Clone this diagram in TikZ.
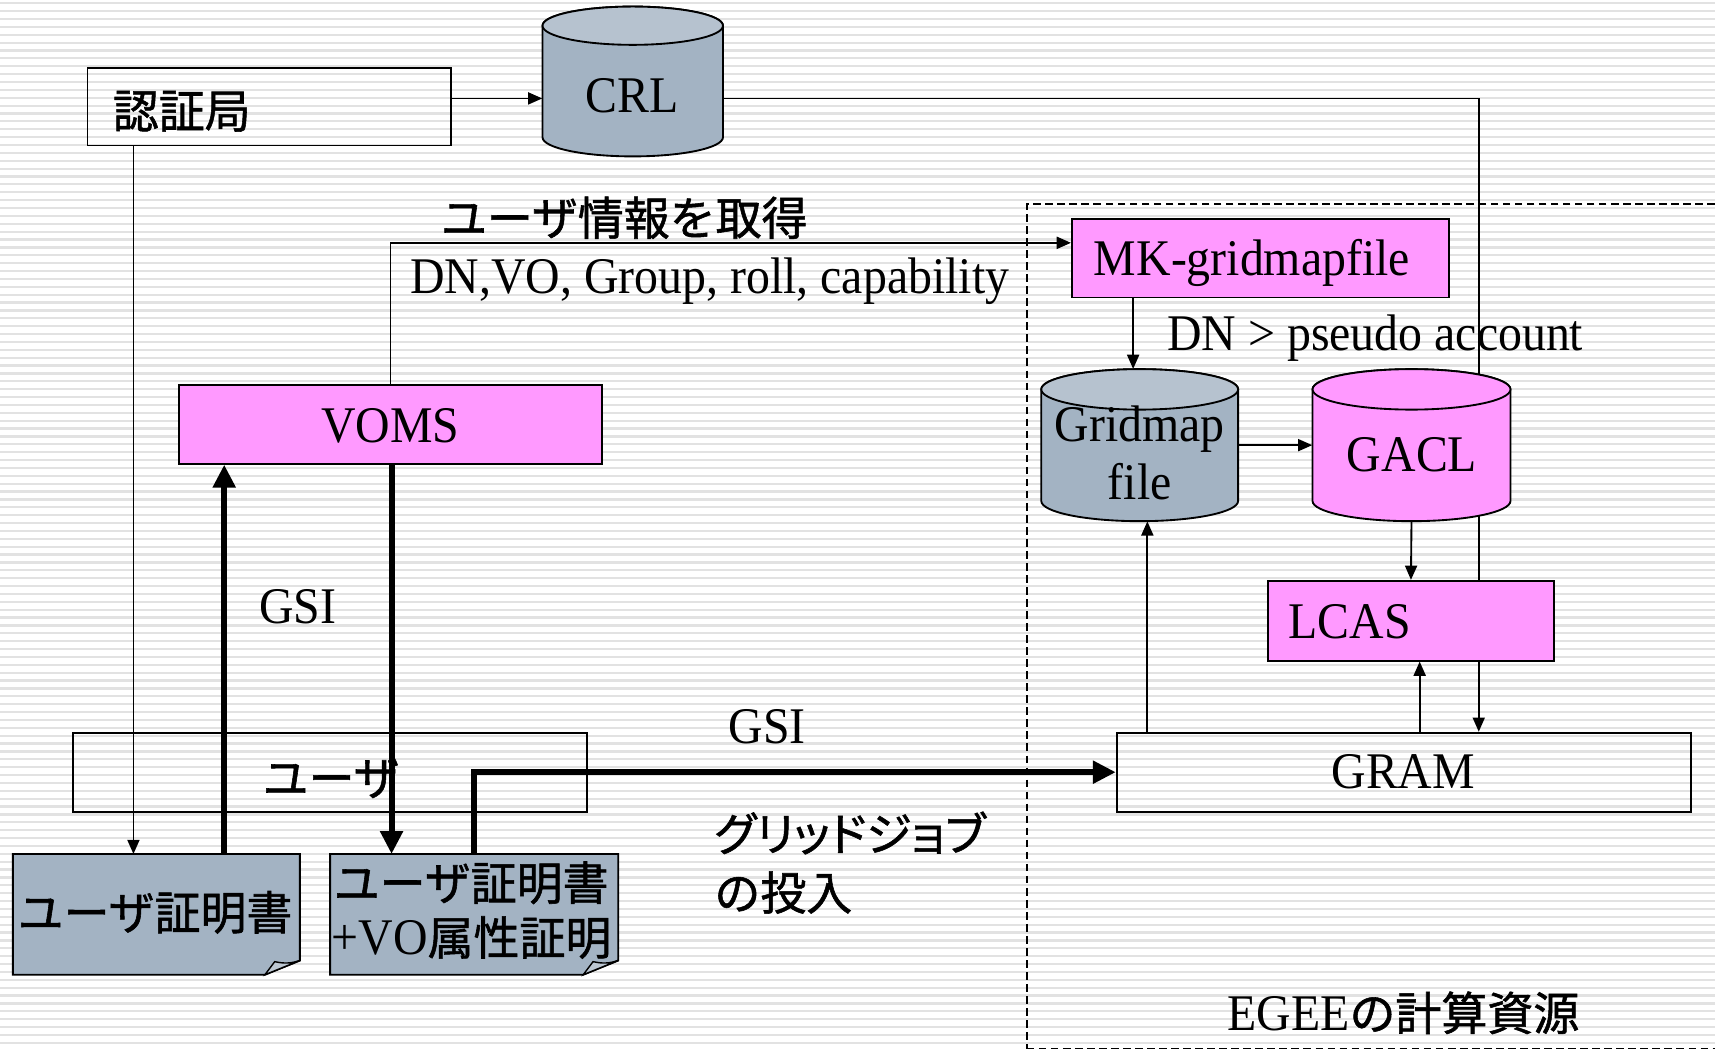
\documentclass[tikz,border=0pt]{standalone}
\usepackage{fontspec}
\setmainfont{Liberation Serif}[FakeStretch=0.93]
\newfontfamily\jpfont{Noto Sans CJK JP}[FakeBold=1.2]
\newfontfamily\jppropfont{Noto Sans CJK JP}[RawFeature=+palt, FakeBold=1.2]
\usetikzlibrary{arrows.meta}

\newcommand\latinsz{\fontsize{47}{52}\selectfont}
\newcommand\jpsz{\jpfont\fontsize{42}{50}\selectfont}
\newcommand\jppropsz{\jppropfont\fontsize{42}{50}\selectfont}

\definecolor{magentabox}{HTML}{FF99FF}
\definecolor{slatebody}{HTML}{A3B3C3}
\definecolor{slatetop}{HTML}{B6C2CF}
\definecolor{slateflap}{HTML}{BCC7D2}
\definecolor{stripecol}{HTML}{E2E2E2}

% upright database cylinder: name, cx, cy, x radius, height, end radius, body colour, top colour
\newcommand\dbcylinder[8]{%
  \path[draw=black, line width=1.7pt, fill=#7]
    ({#2-#4},{#3-#5/2+#6}) -- ({#2-#4},{#3+#5/2-#6})
    arc[start angle=180, end angle=360, x radius=#4pt, y radius=#6pt]
    -- ({#2+#4},{#3-#5/2+#6})
    arc[start angle=0, end angle=180, x radius=#4pt, y radius=#6pt] -- cycle;
  \path[draw=black, line width=1.7pt, fill=#8]
    (#2,{#3-#5/2+#6}) ellipse[x radius=#4pt, y radius=#6pt];
  \node[inner sep=0, minimum width=2*#4, minimum height=#5] (#1) at (#2,#3) {};
}

% certificate sheet with a curled lower right corner, drawn round a named node
\newcommand\certsheet[1]{%
  \path[draw=black, line width=1.7pt, fill=slatebody]
    (#1.north west) -- (#1.north east) -- ([yshift=13pt]#1.south east)
    -- ([xshift=-32pt]#1.south east) -- (#1.south west) -- cycle;
  \path[draw=black, line width=1.3pt, fill=slateflap]
    ([xshift=-32pt]#1.south east) -- ([xshift=-23pt,yshift=12pt]#1.south east)
    to[bend right=15] ([yshift=13pt]#1.south east) -- cycle;
}

\tikzset{
  box/.style={draw=black, line width=1.7pt, inner sep=0},
  pinkbox/.style={box, fill=magentabox},
  sheet/.style={inner sep=0, minimum width=262, minimum height=110},
  lbl/.style={inner sep=0, font=\latinsz},
  jlbl/.style={inner sep=0, font=\jpsz},
  arr/.style={line width=1.7pt, -{Triangle[length=13pt, width=11pt]}},
  thickarr/.style={line width=5.5pt, line join=miter, -{Triangle[length=21pt, width=20pt]}},
  region/.style={draw=black, line width=1.5pt, dash pattern=on 7pt off 4pt, inner sep=0},
}

\begin{document}
\begin{tikzpicture}[x=1pt, y=-1pt]
  \useasboundingbox (0,0) rectangle (1568,960);
  \fill[white] (0,0) rectangle (1568,960);
  \foreach \k in {0,...,133}
    \draw[stripecol, line width=2pt] (0,{3+\k*7.2}) -- (1568,{3+\k*7.2});

  % computing resources area
  \node[region, minimum width=660, minimum height=772, anchor=north west] (egee) at (938,186) {};

  % helper coordinates for connector positions
  \coordinate (crlturn) at (1352,90);
  \coordinate (infoy) at (0,222);
  \coordinate (mkx) at (1036,0);
  \coordinate (gmx) at (1049,0);
  \coordinate (lcx) at (1298,0);
  \coordinate (cax) at (122,0);
  \coordinate (upx) at (205,0);
  \coordinate (downx) at (358,0);
  \coordinate (jobx) at (433,0);

  % boxes
  \node[box, minimum width=332, minimum height=71] (ca) at (246,97.5) {};
  \coordinate (caout) at ([yshift=7.5pt]ca.east);

  % revocation list path runs behind GACL and LCAS
  \dbcylinder{crl}{578.5}{74.5}{82.5}{137}{17.5}{slatebody}{slatetop}
  \draw[arr] (caout -| crl.east) -- (crlturn) -- (crlturn |- 0,669);

  \node[pinkbox, minimum width=345, minimum height=72] (mk) at (1152.5,236) {};
  \dbcylinder{gridmap}{1042}{407}{90}{139}{18.5}{slatebody}{slatetop}
  \dbcylinder{gacl}{1290.5}{407}{90.5}{139}{18.5}{magentabox}{magentabox}
  \node[pinkbox, minimum width=262, minimum height=73] (lcas) at (1290,567.5) {};
  \node[box, minimum width=525, minimum height=72] (gram) at (1283.5,706) {};
  \node[pinkbox, minimum width=386, minimum height=72] (voms) at (357,388) {};
  \node[box, minimum width=470, minimum height=72] (user) at (302,706) {};

  \node[sheet] (cert1) at (143,836) {};
  \node[sheet, minimum width=263] (cert2) at (433.5,836) {};
  \certsheet{cert1}
  \certsheet{cert2}

  % thin connectors
  \draw[arr] (caout) -- (caout -| crl.west);
  \draw[arr] (voms.north) -- (voms.north |- infoy) -- (infoy -| mk.west);
  \draw[arr] (mk.south -| mkx) -- (gridmap.north -| mkx);
  \draw[arr] (gridmap.east) -- (gacl.west);
  \draw[arr] (gacl.south) -- (lcas.north);
  \draw[arr] (gram.north -| lcx) -- (lcas.south -| lcx);
  \draw[arr] (gram.north -| gmx) -- (gridmap.south -| gmx);
  \draw[arr] (ca.south -| cax) -- (cert1.north -| cax);

  % labels
  \node[jlbl, anchor=base west] (catext) at (103,117) {認証局};
  \node[lbl, anchor=base] (crltext) at (578,103) {CRL};
  \node[jlbl, anchor=base west] (infotitle) at (403,215) {ユーザ情報を取得};
  \node[lbl, anchor=base west] (infoattr) at (375,268) {DN,VO, Group, roll, capability};
  \node[lbl, anchor=base west] (mktext) at (1000,252) {MK-gridmapfile};
  \node[lbl, anchor=base west] (mapnote) at (1067,320) {DN > pseudo account};
  \node[lbl, anchor=base] (gmtext1) at (1042,404) {Gridmap};
  \node[lbl, anchor=base] (gmtext2) at (1042,457) {file};
  \node[lbl, anchor=base] (gacltext) at (1291,431) {GACL};
  \node[lbl, anchor=base west] (lcastext) at (1178,584) {LCAS};
  \node[lbl, anchor=base] (gramtext) at (1283,721) {GRAM};
  \node[lbl, anchor=base] (vomstext) at (357,405) {VOMS};
  \node[lbl, anchor=base west] (gsiup) at (237,570) {GSI};
  \node[lbl, anchor=base west] (gsijob) at (666,680) {GSI};
  \node[jlbl, anchor=base west] (usertext) at (240,727) {ユーザ};
  \node[jlbl, anchor=base west] (cert1text) at (16,850) {ユーザ証明書};
  \node[jlbl, anchor=base west] (cert2text1) at (305,823) {ユーザ証明書};
  \node[inner sep=0, anchor=base west] (cert2text2) at (303,873) {{\latinsz +VO}{\jpsz 属性証明}};
  \node[inner sep=0, font=\jppropsz, anchor=base west] (jobtext1) at (653,778) {グリッドジョブ};
  \node[jlbl, anchor=base west] (jobtext2) at (653,832) {の投入};
  \node[inner sep=0, anchor=base west] (egeetext) at (1122,942) {{\latinsz EGEE}{\jpsz の計算資源}};

  % thick GSI connectors
  \draw[thickarr] (cert1.north -| upx) -- (voms.south -| upx);
  \draw[thickarr] (voms.south -| downx) -- (cert2.north -| downx);
  \draw[thickarr] (cert2.north -| jobx) |- (gram.west);
\end{tikzpicture}
\end{document}
